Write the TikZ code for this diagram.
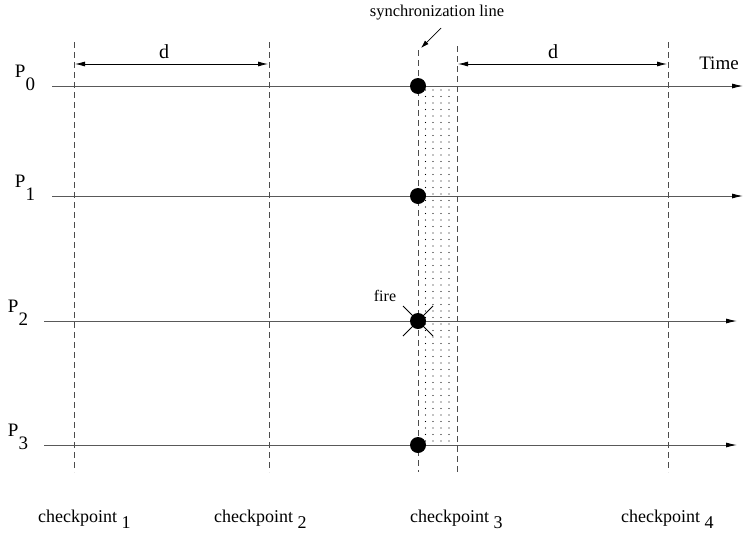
\documentclass[tikz,border=0pt]{standalone}
\usepackage{fontspec}
\setmainfont{Liberation Serif}
\usetikzlibrary{arrows.meta}
\begin{document}
\begin{tikzpicture}[x=1pt,y=-1pt,
  proc/.style={draw=black!65,line width=0.9pt,-{Latex[length=11pt,width=5pt,black]}},
  cpline/.style={draw=black!70,dashed,dash pattern=on 6pt off 4pt,line width=0.8pt},
  dist/.style={draw=black,line width=0.8pt,{Latex[length=10pt,width=5pt]}-{Latex[length=10pt,width=5pt]}},
  evt/.style={circle,fill=black,inner sep=0pt,minimum size=16pt},
  lbl/.style={font=\fontsize{18}{20}\selectfont,inner sep=0pt},
  plbl/.style={font=\fontsize{19}{21}\selectfont,inner sep=0pt}]
\useasboundingbox (0,0) rectangle (746,536);

% process time lines
\coordinate (s0) at (52,86);  \coordinate (e0) at (743,86);
\coordinate (s1) at (52,196); \coordinate (e1) at (743,196);
\coordinate (s2) at (44,321); \coordinate (e2) at (737,321);
\coordinate (s3) at (44,445); \coordinate (e3) at (737,445);
\draw[proc] (s0) -- (e0);
\draw[proc] (s1) -- (e1);
\draw[proc] (s2) -- (e2);
\draw[proc] (s3) -- (e3);

% process labels
\node[plbl] (p0) at (25,78) {P\raisebox{-13pt}{0}};
\node[plbl] (p1) at (25,188) {P\raisebox{-13pt}{1}};
\node[plbl] (p2) at (18,313) {P\raisebox{-13pt}{2}};
\node[plbl] (p3) at (18,437) {P\raisebox{-13pt}{3}};

% sync region shading (dots)
\foreach \xx in {425.5,433,441,449}{
  \foreach \yy in {90,96.5,...,446}{
    \fill[black] (\xx,\yy) circle (0.7pt);
  }
}

% checkpoint lines
\coordinate (c1t) at (74,42);  \coordinate (c1b) at (74,472);
\coordinate (c2t) at (269,42); \coordinate (c2b) at (269,472);
\coordinate (syt) at (418,50); \coordinate (syb) at (418,472);
\coordinate (c3t) at (457,46); \coordinate (c3b) at (457,472);
\coordinate (c4t) at (668,42); \coordinate (c4b) at (668,472);
\draw[cpline] (c1t) -- (c1b);
\draw[cpline] (c2t) -- (c2b);
\draw[cpline] (syt) -- (syb);
\draw[cpline] (c3t) -- (c3b);
\draw[cpline] (c4t) -- (c4b);

% distance markers
\coordinate (d1a) at (75,64);  \coordinate (d1b) at (268,64);
\coordinate (d2a) at (458,64); \coordinate (d2b) at (667,64);
\draw[dist] (d1a) -- (d1b);
\draw[dist] (d2a) -- (d2b);
\node[lbl,font=\fontsize{20}{22}\selectfont] (dl1) at (164,52) {d};
\node[lbl,font=\fontsize{20}{22}\selectfont] (dl2) at (553,52) {d};

\node[lbl,font=\fontsize{19}{21}\selectfont] (time) at (719,63) {Time};

% synchronization line label
\node[lbl,font=\fontsize{16.5}{18}\selectfont] (sync) at (437,13) {synchronization line};
\coordinate (sa) at (441,28);
\coordinate (sb) at (421,48);
\draw[line width=0.7pt,-{Latex[length=8pt,width=5pt]}] (sa) -- (sb);

% events
\node[evt] (ev0) at (418,86) {};
\node[evt] (ev1) at (418,196) {};
\node[evt] (ev2) at (418,321) {};
\node[evt] (ev3) at (418,445) {};

% failure mark
\coordinate (x1) at (403,306); \coordinate (x2) at (433,336);
\coordinate (x3) at (403,336); \coordinate (x4) at (433,306);
\draw[line width=1pt] (x1) -- (x2);
\draw[line width=1pt] (x3) -- (x4);
\node[lbl,font=\fontsize{16}{18}\selectfont] (fire) at (385,296) {fire};

% checkpoint labels
\node[lbl,anchor=base west] (k1) at (38,522) {checkpoint \raisebox{-6pt}{1}};
\node[lbl,anchor=base west] (k2) at (214,522) {checkpoint \raisebox{-6pt}{2}};
\node[lbl,anchor=base west] (k3) at (410,522) {checkpoint \raisebox{-6pt}{3}};
\node[lbl,anchor=base west] (k4) at (621,522) {checkpoint \raisebox{-6pt}{4}};
\end{tikzpicture}
\end{document}
